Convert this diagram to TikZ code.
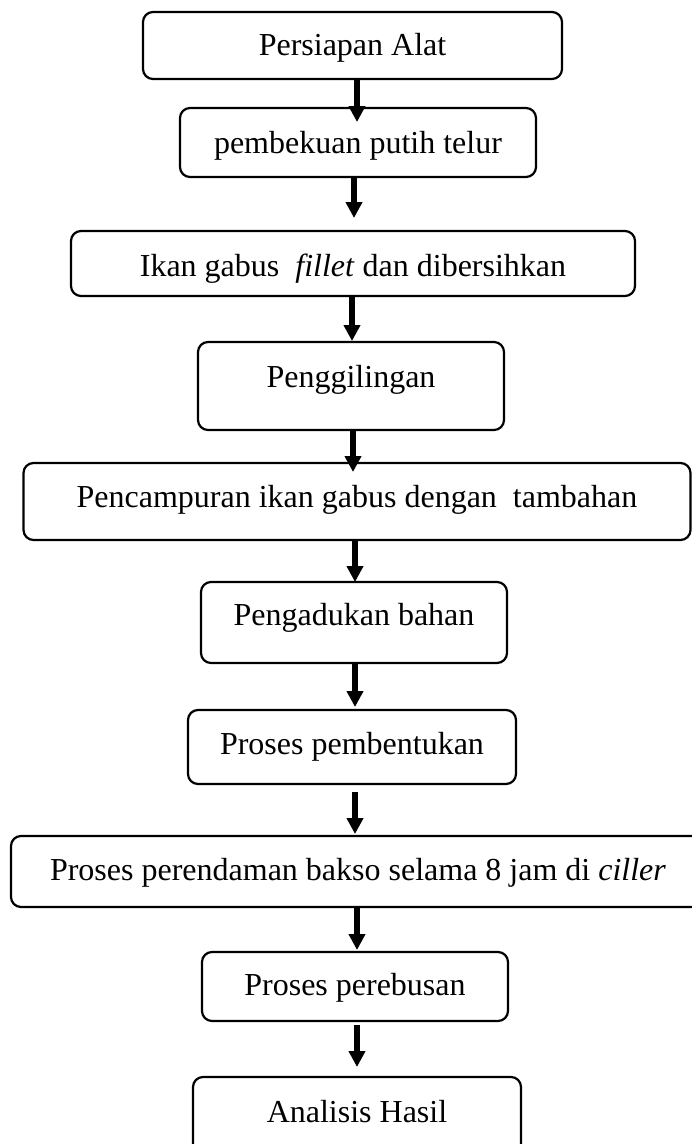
\documentclass[tikz,border=0pt]{standalone}
\usepackage{fontspec}
\setmainfont{Liberation Serif}
\usetikzlibrary{arrows.meta}
\begin{document}
\begin{tikzpicture}[x=1pt,y=-1pt,
  stepbox/.style={draw, line width=2.2pt, rounded corners=10pt, inner sep=0pt, outer sep=0pt,
    font=\fontsize{32}{38}\selectfont, text height=30pt},
  arr/.style={line width=6pt, -{Triangle[width=16pt,length=16pt]}}]
\useasboundingbox (0,0) rectangle (692,1144);
\node[stepbox, minimum width=419pt, minimum height=67pt, text depth=11pt] (n1) at (352.5,45.5) {Persiapan Alat};
\node[stepbox, minimum width=356pt, minimum height=69pt, text depth=9pt] (n2) at (358,142.5) {pembekuan putih telur};
\node[stepbox, minimum width=564pt, minimum height=65pt, text depth=5pt] (n3) at (353,263.5) {Ikan gabus \ \textit{fillet} dan dibersihkan};
\node[stepbox, minimum width=306pt, minimum height=88pt, text depth=28pt] (n4) at (351,386) {Penggilingan};
\node[stepbox, minimum width=667pt, minimum height=77pt, text depth=19pt] (n5) at (357,501.5) {Pencampuran ikan gabus dengan \ tambahan};
\node[stepbox, minimum width=306pt, minimum height=81pt, text depth=25pt] (n6) at (354,622.5) {Pengadukan bahan};
\node[stepbox, minimum width=328pt, minimum height=74pt, text depth=16pt] (n7) at (352,747) {Proses pembentukan};
\node[stepbox, minimum width=694pt, minimum height=71pt, text depth=13pt] (n8) at (358,871.5) {Proses perendaman bakso selama 8 jam di \textit{ciller}};
\node[stepbox, minimum width=306pt, minimum height=69pt, text depth=13pt] (n9) at (355,986.5) {Proses perebusan};
\node[stepbox, minimum width=328pt, minimum height=80pt, text depth=20pt] (n10) at (357,1117) {Analisis Hasil};
\coordinate (c1) at (357,0);
\coordinate (c2) at (354,0);
\coordinate (c3) at (352,0);
\coordinate (c4) at (353,0);
\coordinate (c5) at (355,0);
\coordinate (c6) at (355,0);
\coordinate (c7) at (355,0);
\coordinate (c8) at (357,0);
\coordinate (c9) at (357,0);
\draw[arr, shorten >=-14pt] (n1.south -| c1) -- (n2.north -| c1);
\draw[arr, shorten >=13pt] (n2.south -| c2) -- (n3.north -| c2);
\draw[arr, shorten >=1pt] (n3.south -| c3) -- (n4.north -| c3);
\draw[arr, shorten >=-9pt] (n4.south -| c4) -- (n5.north -| c4);
\draw[arr] (n5.south -| c5) -- (n6.north -| c5);
\draw[arr, shorten >=3pt] (n6.south -| c6) -- (n7.north -| c6);
\draw[arr, shorten <=8pt, shorten >=2pt] (n7.south -| c7) -- (n8.north -| c7);
\draw[arr, shorten >=2pt] (n8.south -| c8) -- (n9.north -| c8);
\draw[arr, shorten <=4pt, shorten >=10pt] (n9.south -| c9) -- (n10.north -| c9);
\end{tikzpicture}
\end{document}
